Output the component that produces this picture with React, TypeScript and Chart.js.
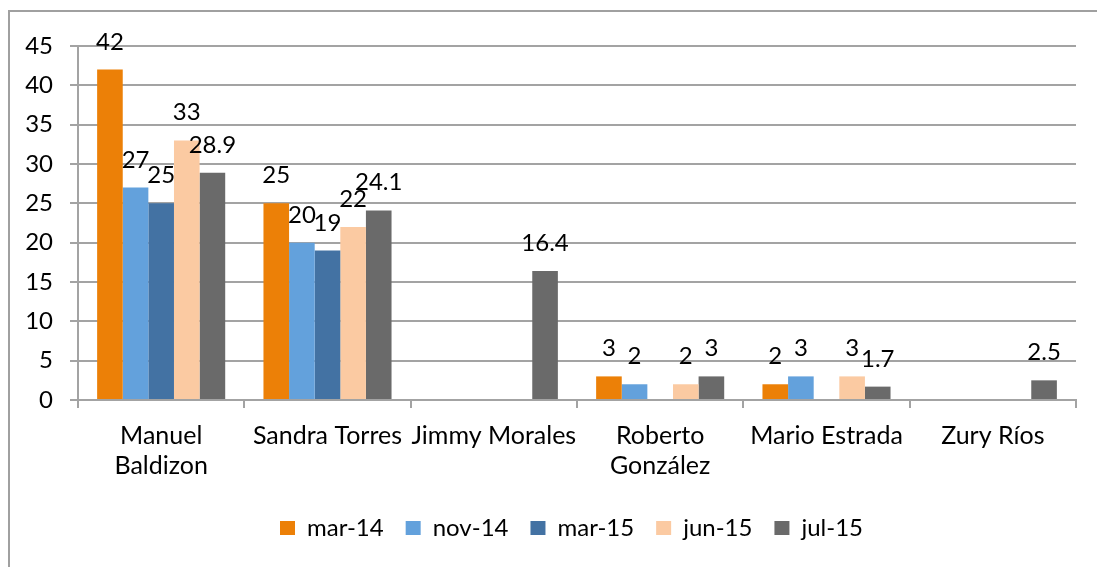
import React, { useEffect, useRef } from "react";
import { Chart, registerables } from "chart.js";

Chart.register(...registerables);

const categories: (string | string[])[] = [
  ["Manuel", "Baldizon"],
  "Sandra Torres",
  "Jimmy Morales",
  ["Roberto", "González"],
  "Mario Estrada",
  "Zury Ríos",
];
const seriesNames = ["mar-14", "nov-14", "mar-15", "jun-15", "jul-15"];
const mar14 = [42, 25, null, 3, 2, null];
const nov14 = [27, 20, null, 2, 3, null];
const mar15 = [25, 19, null, null, null, null];
const jun15 = [33, 22, null, 2, 3, null];
const jul15 = [28.9, 24.1, 16.4, 3, 1.7, 2.5];
const seriesValues = [mar14, nov14, mar15, jun15, jul15];
const seriesColors = ["#EC8007", "#63A1DC", "#4372A3", "#FBCAA2", "#6A6A6A"];
const yMin = 0;
const yMax = 45;
const yStep = 5;

const FONT = "Lato";
const GRID = "#a3a3a3";

const valueLabels = {
  id: "valueLabels",
  afterDatasetsDraw(chart: any) {
    const ctx = chart.ctx;
    ctx.save();
    ctx.font = `24px ${FONT}`;
    ctx.fillStyle = "#000";
    ctx.textAlign = "center";
    ctx.textBaseline = "alphabetic";
    chart.data.datasets.forEach((ds: any, i: number) => {
      const meta = chart.getDatasetMeta(i);
      meta.data.forEach((el: any, j: number) => {
        const v = ds.data[j];
        if (v == null) return;
        ctx.fillText(String(v), el.x, el.y - 20);
      });
    });
    ctx.restore();
  },
};

const legendShift = {
  id: "legendShift",
  afterLayout(chart: any) {
    const lg = chart.legend;
    if (lg) {
      const w = lg.right - lg.left;
      lg.left = 248;
      lg.right = 248 + w;
    }
  },
};

export default function App() {
  const ref = useRef<HTMLCanvasElement | null>(null);
  useEffect(() => {
    if (!ref.current) return;
    const chart = new Chart(ref.current, {
      type: "bar",
      data: {
        labels: categories as any,
        datasets: seriesNames.map((name, i) => ({
          label: name,
          data: seriesValues[i] as any,
          backgroundColor: seriesColors[i],
          borderWidth: 0,
          barPercentage: 1,
          categoryPercentage: 0.77,
        })),
      },
      options: {
        responsive: false,
        animation: false,
        devicePixelRatio: 1,
        layout: { padding: { top: 34, right: 21, bottom: 17, left: 0 } },
        plugins: {
          legend: {
            position: "bottom",
            align: "start",
            labels: {
              boxWidth: 15,
              boxHeight: 14,
              padding: 22,
              color: "#000",
              font: { family: FONT, size: 24 },
            },
          },
          tooltip: { enabled: false },
        },
        scales: {
          x: {
            offset: true,
            grid: {
              offset: true,
              drawOnChartArea: false,
              drawTicks: true,
              tickLength: 8,
              color: GRID,
              lineWidth: 2,
            },
            border: { display: true, color: GRID, width: 2 },
            ticks: {
              color: "#000",
              padding: 13,
              maxRotation: 0,
              autoSkip: false,
              font: { family: FONT, size: 25, lineHeight: 1.2 },
            },
            afterFit(scale: any) {
              scale.height = 94;
            },
          },
          y: {
            min: yMin,
            max: yMax,
            ticks: {
              stepSize: yStep,
              color: "#000",
              padding: 17,
              font: { family: FONT, size: 24 },
            },
            grid: {
              color: GRID,
              lineWidth: 2,
              tickLength: 8,
              drawTicks: true,
            },
            border: { display: true, color: GRID, width: 2 },
            afterFit(scale: any) {
              scale.width = 68;
            },
          },
        },
      },
      plugins: [valueLabels, legendShift],
    });
    return () => chart.destroy();
  }, []);

  return (
    <div
      style={{
        position: "fixed",
        left: 8,
        top: 10,
        width: 1089,
        height: 557,
        boxSizing: "border-box",
        borderLeft: "2px solid #a0a0a0",
        borderTop: "2px solid #a0a0a0",
        background: "#fff",
      }}
    >
      <canvas ref={ref} width={1087} height={555} style={{ display: "block" }} />
    </div>
  );
}
